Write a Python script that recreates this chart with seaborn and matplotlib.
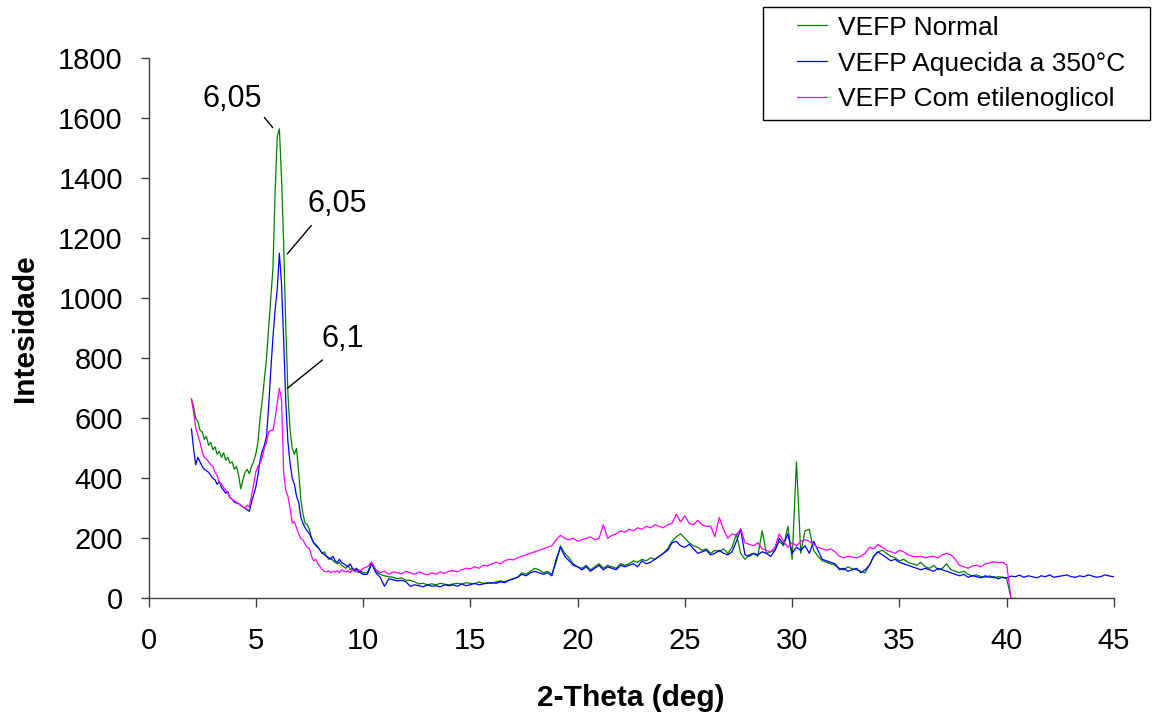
import numpy as np
import pandas as pd
import matplotlib
matplotlib.use("Agg")
import matplotlib.pyplot as plt
import seaborn as sns
from matplotlib.legend_handler import HandlerLine2D
from matplotlib.lines import Line2D

# ---------------- data ----------------
names = ["VEFP Normal", "VEFP Aquecida a 350\u00b0C", "VEFP Com etilenoglicol"]
colors = ["#008000", "#0000ff", "#ff00ff"]

# 2-theta sampling positions (deg)
theta_fine = np.round(np.arange(2.0, 10.001, 0.1), 2)      # 2.0 .. 10.0
theta_coarse = np.round(np.arange(10.2, 40.001, 0.2), 2)   # 10.2 .. 40.0
theta_tail_blue = np.round(np.arange(40.2, 45.001, 0.2), 2)  # 40.2 .. 45.0
theta_tail_green = [40.2]
theta_tail_pink = [40.2, 40.4]

green_fine = [
    665, 640, 600, 590, 560, 555, 530, 540, 510, 520,
    495, 505, 480, 490, 470, 485, 460, 470, 450, 455,
    430, 440, 410, 365, 395, 420, 430, 415, 440, 455,
    480, 520, 600, 660, 730, 800, 900, 1000, 1100, 1350,
    1540, 1565, 1400, 1180, 900, 680, 560, 500, 480, 500,
    420, 330, 280, 250, 245, 230, 200, 185, 180, 170,
    160, 150, 155, 140, 130, 135, 125, 120, 115, 120,
    110, 105, 100, 110, 95, 100, 90, 95, 85, 90,
    85]
green_coarse = [
    85, 120, 90, 80, 75, 72, 70, 65, 68, 60,
    60, 55, 48, 50, 45, 48, 45, 50, 47, 45,
    48, 50, 47, 52, 50, 48, 55, 50, 52, 50,
    55, 58, 55, 60, 65, 70, 85, 80, 90, 100,
    95, 85, 90, 80, 120, 175, 150, 135, 115, 105,
    100, 110, 95, 105, 115, 100, 110, 105, 100, 115,
    110, 115, 125, 120, 130, 125, 135, 130, 140, 150,
    165, 190, 205, 215, 200, 185, 175, 170, 160, 165,
    150, 160, 155, 165, 150, 170, 215, 150, 130, 145,
    150, 140, 225, 150, 155, 160, 190, 175, 240, 130,
    455, 150, 225, 230, 160, 140, 125, 120, 115, 110,
    100, 95, 105, 98, 95, 90, 85, 110, 140, 155,
    160, 150, 140, 135, 125, 130, 120, 115, 110, 120,
    105, 100, 110, 95, 100, 115, 95, 90, 85, 90,
    80, 75, 78, 72, 70, 75, 68, 72, 70, 65]
green_tail = [0]

blue_fine = [
    565, 500, 445, 470, 455, 440, 430, 425, 420, 410,
    400, 395, 380, 390, 370, 360, 350, 355, 335, 330,
    320, 318, 315, 310, 305, 300, 295, 290, 320, 345,
    370, 410, 460, 490, 510, 540, 640, 760, 870, 960,
    1030, 1150, 1050, 860, 650, 520, 450, 400, 380, 340,
    320, 270, 250, 235, 225, 215, 200, 185, 175, 170,
    160, 150, 145, 140, 135, 130, 140, 125, 120, 130,
    120, 115, 110, 105, 115, 100, 95, 100, 90, 85,
    80]
blue_coarse = [
    80, 115, 85, 70, 40, 65, 62, 58, 60, 55,
    40, 45, 42, 38, 45, 40, 42, 38, 45, 42,
    45, 40, 48, 42, 45, 50, 45, 48, 50, 52,
    50, 55, 52, 60, 65, 70, 80, 75, 85, 90,
    85, 80, 85, 75, 130, 170, 140, 125, 110, 105,
    95, 105, 90, 100, 110, 95, 105, 100, 95, 110,
    105, 110, 115, 105, 125, 115, 120, 130, 140, 150,
    160, 185, 190, 175, 170, 180, 165, 150, 155, 160,
    145, 150, 160, 150, 145, 155, 190, 230, 145, 140,
    150, 145, 155, 150, 140, 160, 200, 180, 215, 150,
    170, 160, 175, 150, 190, 160, 130, 125, 120, 115,
    95, 100, 90, 95, 100, 85, 95, 110, 140, 155,
    145, 135, 125, 130, 120, 115, 110, 105, 100, 95,
    100, 95, 90, 100, 95, 90, 85, 80, 75, 80,
    70, 75, 72, 68, 75, 70, 72, 65, 70, 68]
blue_tail = [74, 72, 77, 70, 75, 72, 68, 75, 72, 78,
             70, 73, 75, 78, 72, 70, 75, 72, 78, 74,
             70, 73, 78, 74, 72]

pink_fine = [
    665, 620, 570, 545, 520, 490, 470, 465, 455, 445,
    440, 420, 410, 385, 380, 370, 360, 350, 335, 330,
    325, 320, 315, 310, 305, 300, 310, 305, 340, 380,
    420, 440, 450, 470, 500, 520, 555, 560, 560, 600,
    650, 700, 660, 420, 360, 340, 300, 250, 255, 235,
    215, 200, 195, 180, 170, 165, 140, 125, 130, 115,
    105, 95, 90, 88, 92, 85, 90, 88, 92, 85,
    95, 90, 88, 92, 85, 95, 90, 88, 95, 92,
    100]
pink_coarse = [
    105, 120, 95, 85, 90, 80, 88, 85, 82, 90,
    85, 80, 88, 82, 78, 85, 80, 88, 83, 90,
    92, 88, 95, 100, 98, 105, 100, 110, 108, 115,
    120, 115, 125, 130, 128, 135, 140, 145, 150, 155,
    160, 165, 170, 175, 195, 210, 200, 195, 200, 190,
    195, 200, 205, 195, 200, 245, 200, 210, 215, 225,
    220, 230, 225, 235, 230, 240, 235, 245, 240, 235,
    245, 250, 280, 255, 275, 250, 245, 260, 245, 240,
    240, 205, 270, 230, 200, 215, 210, 232, 185, 180,
    175, 185, 165, 160, 155, 170, 215, 190, 170, 185,
    175, 190, 195, 190, 180, 170, 165, 160, 165, 155,
    140, 135, 140, 138, 135, 140, 150, 170, 165, 180,
    170, 160, 155, 150, 160, 155, 145, 140, 138, 140,
    135, 138, 140, 135, 145, 150, 145, 130, 110, 105,
    100, 108, 110, 105, 115, 118, 122, 118, 120, 112]
pink_tail = [0, 0]

x_ticks = list(range(0, 46, 5))
y_ticks = list(range(0, 1801, 200))

peak_labels = ["6,05", "6,05", "6,1"]

# ---------------- figure ----------------
sns.set_style("white")
plt.rcParams['font.family'] = ['Liberation Sans', 'DejaVu Sans']
plt.rcParams['text.color'] = 'black'
plt.rcParams['axes.labelcolor'] = 'black'

W, H = 1157, 713
fig = plt.figure(figsize=(W / 100, H / 100), dpi=100)
L, R, T, B = 148.5, 1114, 58.3, 598.3
ax = fig.add_axes([L / W, 1 - B / H, (R - L) / W, (B - T) / H])

series = [
    (names[0], np.concatenate([theta_fine, theta_coarse, theta_tail_green]),
     green_fine + green_coarse + green_tail, colors[0]),
    (names[1], np.concatenate([theta_fine, theta_coarse, theta_tail_blue]),
     blue_fine + blue_coarse + blue_tail, colors[1]),
    (names[2], np.concatenate([theta_fine, theta_coarse, theta_tail_pink]),
     pink_fine + pink_coarse + pink_tail, colors[2]),
]
for name, xs, ys, col in series:
    df = pd.DataFrame({"theta": xs, "I": ys})
    sns.lineplot(data=df, x="theta", y="I", color=col, lw=0.9, ax=ax,
                 label=name, estimator=None)

ax.set_xlim(0, 45)
ax.set_ylim(0, 1800)
ax.set_xticks(x_ticks)
ax.set_yticks(y_ticks)
for s in ["top", "right"]:
    ax.spines[s].set_visible(False)
for s in ["left", "bottom"]:
    ax.spines[s].set_color("#404040")
    ax.spines[s].set_linewidth(1.0)
ax.tick_params(axis="x", bottom=True, direction="out", length=6.5, width=1,
               color="#404040", labelsize=21, pad=14, labelcolor="black")
ax.tick_params(axis="y", left=True, direction="out", length=6.0, width=1,
               color="#404040", labelsize=21, pad=12.5, labelcolor="black")

ax.set_xlabel("2-Theta (deg)", fontsize=21.5, fontweight="bold", color="black")
ax.set_ylabel("Intesidade", fontsize=21.5, fontweight="bold", color="black")
ax.xaxis.set_label_coords(0.4997, -0.1585)
ax.yaxis.set_label_coords(-0.1134, 0.5)

# peak annotations
ann = [
    (peak_labels[0], (5.79, 1569), (3.89, 1664), (1.0, 0.0), 0),
    (peak_labels[1], (6.47, 1148), (8.81, 1314), (0.15, 0.0), 3),
    (peak_labels[2], (6.47, 700), (9.04, 864), (0.2, 0.0), 3),
]
for txt, xy, xyt, rp, sh in ann:
    ax.annotate(txt, xy=xy, xytext=xyt, textcoords="data", ha="center",
                va="center", fontsize=22, color="black",
                arrowprops=dict(arrowstyle="-", color="black", lw=1.0,
                                shrinkA=sh, shrinkB=0, relpos=rp))

handles, labels = ax.get_legend_handles_labels()
leg = ax.legend(handles, labels, loc="upper left",
                bbox_to_anchor=(763 / W, 1 - 117 / H, (1150 - 763) / W, 110 / H),
                bbox_transform=fig.transFigure, mode="expand", borderaxespad=0,
                fontsize=19, frameon=True, fancybox=False, framealpha=1,
                edgecolor="black", borderpad=0.33, labelspacing=0.45,
                handlelength=2.1, handletextpad=0.4,
                handler_map={Line2D: HandlerLine2D(xpad=0.95)})
leg.get_frame().set_linewidth(1.0)
for t in leg.get_texts():
    t.set_color("black")

fig.savefig("out.png", dpi=100)
